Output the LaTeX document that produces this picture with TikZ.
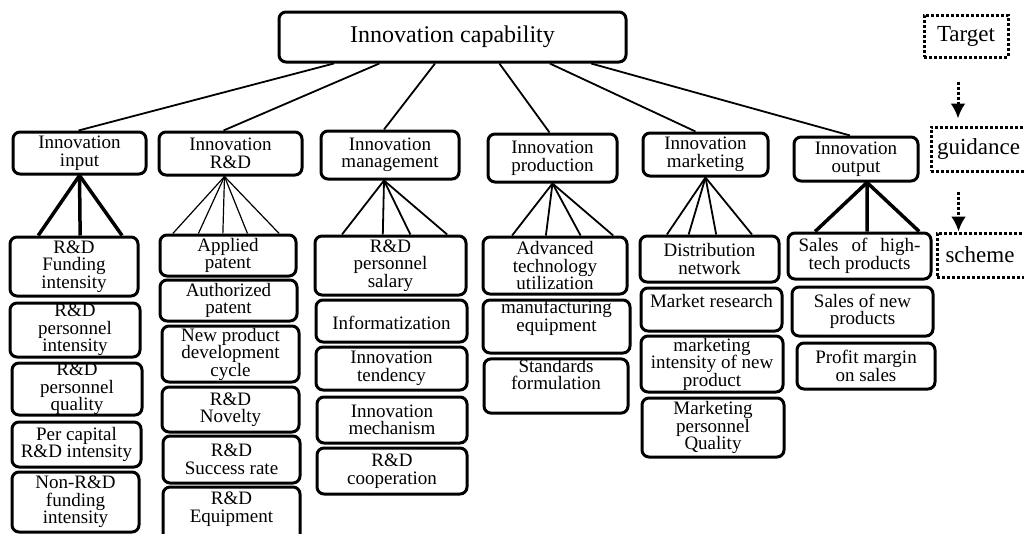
\documentclass[tikz,border=0pt]{standalone}
\usepackage{fontspec}
\setmainfont{Liberation Serif}
\usetikzlibrary{calc,arrows.meta}
\tikzset{
    box/.style={draw, line width=3pt, rounded corners=7pt, align=center, inner sep=0pt,
        font=\fontsize{19}{17.5}\selectfont},
    side/.style={draw, dotted, line width=3pt, align=center, inner sep=0pt,
        font=\fontsize{23}{23}\selectfont},
    link/.style={line width=1.8pt},
    flow/.style={dotted, line width=3pt, -{Latex[length=15pt,width=15pt]}}
}
\begin{document}
\begin{tikzpicture}[x=1pt, y=-1pt]
    \useasboundingbox (0,0) rectangle (1024,533);
    % Target
    \node [box, font=\fontsize{24}{24}\selectfont, minimum width=347pt, minimum height=50pt] (cap) at (452.5,37) {Innovation capability};
    % First level
    \node [box, minimum width=133pt, minimum height=42pt] (inp) at (79.5,153) {Innovation\\input};
    \node [box, minimum width=143pt, minimum height=43pt] (rd) at (230.5,153.5) {Innovation\\R\&D};
    \node [box, minimum width=138pt, minimum height=48pt] (mgt) at (390,155) {Innovation\\management};
    \node [box, minimum width=129pt, minimum height=48pt] (prod) at (552.5,158) {Innovation\\production};
    \node [box, minimum width=125pt, minimum height=43pt] (mkt) at (705.5,154.5) {Innovation\\marketing};
    \node [box, minimum width=124pt, minimum height=44pt] (out) at (856,159) {Innovation\\output};
    % Input
    \node [box, minimum width=128pt, minimum height=59pt] (in1) at (74,266.5) {R\&D\\Funding\\intensity};
    \node [box, minimum width=130pt, minimum height=54pt] (in2) at (75,330) {R\&D\\personnel\\intensity};
    \node [box, minimum width=130pt, minimum height=52pt] (in3) at (77,389) {R\&D\\personnel\\quality};
    \node [box, minimum width=129pt, minimum height=45pt] (in4) at (76.5,444.5) {Per capital\\R\&D intensity};
    \node [box, minimum width=127pt, minimum height=60pt] (in5) at (75.5,502) {Non-R\&D\\funding\\intensity};
    % R&D
    \node [box, minimum width=136pt, minimum height=41pt] (rd1) at (228,255.5) {Applied\\patent};
    \node [box, minimum width=137pt, minimum height=41pt] (rd2) at (228.5,300.5) {Authorized\\patent};
    \node [box, minimum width=137pt, minimum height=56pt] (rd3) at (230.5,354) {New product\\development\\cycle};
    \node [box, minimum width=137pt, minimum height=45pt] (rd4) at (230.5,409.5) {R\&D\\Novelty};
    \node [box, minimum width=137pt, minimum height=47pt] (rd5) at (231.5,459.5) {R\&D\\Success rate};
    \node [box, minimum width=137pt, minimum height=58pt] (rd6) at (231.5,516) {R\&D\\Equipment\\\mbox{}};
    % Management
    \node [box, minimum width=151pt, minimum height=59pt] (mg1) at (390.5,265.5) {R\&D\\personnel\\salary};
    \node [box, minimum width=151pt, minimum height=42pt] (mg2) at (391.5,321) {\mbox{}\\Informatization};
    \node [box, minimum width=151pt, minimum height=43pt] (mg3) at (391.5,368.5) {Innovation\\tendency};
    \node [box, minimum width=150pt, minimum height=46pt] (mg4) at (392,420) {Innovation\\mechanism};
    \node [box, minimum width=150pt, minimum height=46pt] (mg5) at (392,471) {R\&D\\cooperation};
    % Production
    \node [box, minimum width=144pt, minimum height=57pt] (pr1) at (555,265.5) {Advanced\\technology\\utilization};
    \node [box, minimum width=147pt, minimum height=53pt] (pr2) at (556.5,326.5) {manufacturing\\equipment\\[4pt]};
    \node [box, minimum width=144pt, minimum height=52pt] (pr3) at (556,386) {Standards\\formulation\\[6pt]};
    % Marketing
    \node [box, minimum width=139pt, minimum height=46pt] (mk1) at (709.5,259) {Distribution\\network};
    \node [box, minimum width=141pt, minimum height=43pt] (mk2) at (711.5,309.5) {Market research\\\mbox{}};
    \node [box, minimum width=142pt, minimum height=56pt] (mk3) at (712,364) {marketing\\intensity of new\\product};
    \node [box, minimum width=142pt, minimum height=59pt] (mk4) at (713,427.5) {Marketing\\personnel\\Quality};
    % Output
    \node [box, minimum width=143pt, minimum height=46pt] (ou1) at (859.5,256) {\makebox[122pt][s]{Sales of high-}\\tech products};
    \node [box, minimum width=141pt, minimum height=49pt] (ou2) at (862.5,311.5) {Sales of new\\products};
    \node [box, minimum width=138pt, minimum height=46pt] (ou3) at (866,366) {Profit margin\\on sales};
    % Legend
    \node [side, minimum width=84pt, minimum height=42pt] (tgt) at (966,36) {Target};
    \node [side, minimum width=99pt, minimum height=44pt, text width=87pt, align=left] (gui) at (980.5,149) {guidance};
    \node [side, minimum width=93pt, minimum height=44pt, text width=76pt, align=left] (sch) at (983.5,255) {scheme};
    \draw [flow, shorten <=23pt, shorten >=7pt] ([xshift=-8pt]tgt.south) -- ([xshift=-8pt]tgt.south |- gui.north);
    \draw [flow, shorten <=19pt] ([xshift=29pt]gui.south west) -- ([xshift=29pt]gui.south west |- sch.north);

    % Links to first level
    \foreach \f/\n/\s in {0.161/inp/-1, 0.291/rd/-7, 0.450/mgt/-6, 0.634/prod/-3, 0.778/mkt/-10, 0.896/out/-6}
        \draw [link] ($(cap.south west)!\f!(cap.south east)$) -- ([xshift=\s pt]\n.north);
    % Links to indicators
    \foreach \f in {0.227, 0.547, 0.867}
        \draw [line width=3.5pt] (inp.south) -- ($(in1.north west)!\f!(in1.north east)$);
    \foreach \f in {0.103, 0.287, 0.463, 0.640, 0.868}
        \draw [line width=1.2pt] ([xshift=-6pt]rd.south) -- ($(rd1.north west)!\f!(rd1.north east)$);
    \foreach \f in {0.185, 0.450, 0.629, 0.868}
        \draw [link] ([xshift=-6pt]mgt.south) -- ($(mg1.north west)!\f!(mg1.north east)$);
    \foreach \f in {0.208, 0.438, 0.674, 0.896}
        \draw [link] (prod.south) -- ($(pr1.north west)!\f!(pr1.north east)$);
    \foreach \f in {0.200, 0.353, 0.547, 0.799}
        \draw [link] (mkt.south) -- ($(mk1.north west)!\f!(mk1.north east)$);
    \foreach \f in {0.196, 0.552, 0.909}
        \draw [line width=3.5pt] ([xshift=11pt]out.south) -- ($(ou1.north west)!\f!(ou1.north east)$);
\end{tikzpicture}
\end{document}
